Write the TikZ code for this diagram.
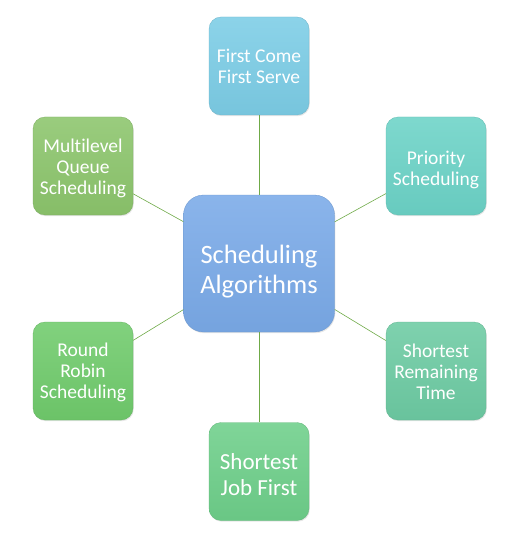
\documentclass[tikz,border=0pt]{standalone}
\usepackage{fontspec}
\setmainfont{Carlito}[Ligatures=NoCommon]
\usetikzlibrary{shadows}
\definecolor{cTop}{HTML}{7CCDE6}
\definecolor{cML}{HTML}{8CC56C}
\definecolor{cPr}{HTML}{6CD3C7}
\definecolor{cCen}{HTML}{7AAAE8}
\definecolor{cRR}{HTML}{70CB6C}
\definecolor{cSRT}{HTML}{6DCBA3}
\definecolor{cSJF}{HTML}{6ECF8A}
\definecolor{lineC}{HTML}{6FAA48}
\tikzset{
  box/.style={rounded corners=12pt, minimum width=100pt, minimum height=98pt,
    inner sep=0pt,
    top color=#1!88!white, bottom color=#1!96!black, draw=#1!88!black, line width=0.3pt,
    drop shadow={shadow xshift=0.8pt, shadow yshift=-1.2pt, opacity=0.2}},
  bigbox/.style={box=#1, rounded corners=20pt, minimum width=151pt, minimum height=137pt},
  txt/.style={align=center, text=white, inner sep=0pt, font=\fontsize{19.5}{21}\selectfont},
  bigtxt/.style={txt, font=\fontsize{26.5}{30}\selectfont},
  conn/.style={draw=lineC, line width=0.6pt}
}
\begin{document}
\begin{tikzpicture}[x=1pt,y=-1pt]
\useasboundingbox (0,0) rectangle (521,548);
\node[bigbox=cCen] (cen) at (259,263.5) {};
\node[box=cTop] (fcfs) at (259,66) {};
\node[box=cML] (ml) at (83,166) {};
\node[box=cPr] (pr) at (436,166) {};
\node[box=cRR] (rr) at (83,371) {};
\node[box=cSRT] (srt) at (436,371) {};
\node[box=cSJF] (sjf) at (259,471.5) {};
\node[bigtxt] (cenT) at ([yshift=-8pt]cen.center) {Scheduling\\Algorithms};
\node[txt] (fcfsT) at ([yshift=0pt]fcfs.center) {First Come\\First Serve};
\node[txt] (mlT) at ([yshift=-2pt]ml.center) {Multilevel\\Queue\\Scheduling};
\node[txt] (prT) at ([yshift=-3.5pt]pr.center) {Priority\\Scheduling};
\node[txt] (rrT) at ([yshift=-1pt]rr.center) {Round\\Robin\\Scheduling};
\node[txt] (srtT) at ([yshift=-1pt]srt.center) {Shortest\\Remaining\\Time};
\node[txt, font=\fontsize{23}{26}\selectfont] (sjfT) at ([yshift=-3pt]sjf.center) {Shortest\\Job First};
\draw[conn] (fcfs) -- (cen);
\draw[conn] (ml) -- (cen);
\draw[conn] (pr) -- (cen);
\draw[conn] (rr) -- (cen);
\draw[conn] (srt) -- (cen);
\draw[conn] (sjf) -- (cen);
\end{tikzpicture}
\end{document}
